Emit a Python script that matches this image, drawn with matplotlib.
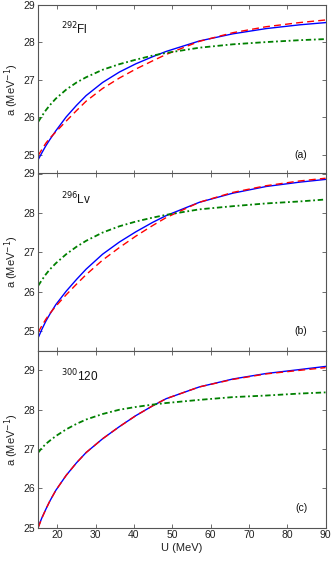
import matplotlib
matplotlib.use("Agg")
import matplotlib.pyplot as plt

plt.rcParams['font.family'] = ['Liberation Sans', 'DejaVu Sans']

U = [15, 16, 17, 18, 19.6, 22.3, 25, 27.5, 31.8, 36.2, 40.5, 44.9, 48.4, 57.1, 65.8, 74.5, 83.2, 90]

# Panel (a) 292Fl
fl_blue  = [24.87, 25.06, 25.24, 25.40, 25.64, 26.01, 26.32, 26.58, 26.93, 27.21, 27.43, 27.62, 27.76, 28.04, 28.23, 28.37, 28.47, 28.53]
fl_red   = [24.98, 25.15, 25.31, 25.44, 25.61, 25.90, 26.18, 26.43, 26.77, 27.05, 27.29, 27.51, 27.68, 28.03, 28.26, 28.42, 28.53, 28.60]
fl_green = [25.88, 26.04, 26.19, 26.32, 26.50, 26.74, 26.93, 27.07, 27.27, 27.42, 27.54, 27.65, 27.72, 27.86, 27.95, 28.01, 28.06, 28.09]

# Panel (b) 296Lv
lv_blue  = [24.83, 25.05, 25.25, 25.42, 25.67, 26.01, 26.31, 26.57, 26.95, 27.26, 27.52, 27.76, 27.93, 28.27, 28.50, 28.67, 28.78, 28.85]
lv_red   = [24.97, 25.14, 25.30, 25.44, 25.63, 25.92, 26.19, 26.43, 26.80, 27.12, 27.41, 27.68, 27.88, 28.27, 28.52, 28.69, 28.81, 28.88]
lv_green = [26.15, 26.30, 26.44, 26.56, 26.72, 26.95, 27.14, 27.29, 27.50, 27.66, 27.78, 27.88, 27.95, 28.09, 28.17, 28.24, 28.29, 28.34]

# Panel (c) 300120
e_blue  = [25.02, 25.26, 25.47, 25.67, 25.95, 26.33, 26.65, 26.91, 27.26, 27.57, 27.85, 28.10, 28.28, 28.58, 28.78, 28.92, 29.02, 29.10]
e_red   = [25.00, 25.25, 25.47, 25.67, 25.95, 26.33, 26.65, 26.91, 27.26, 27.57, 27.85, 28.10, 28.28, 28.58, 28.77, 28.91, 29.00, 29.07]
e_green = [26.91, 27.03, 27.13, 27.21, 27.33, 27.50, 27.64, 27.75, 27.89, 28.00, 28.07, 28.13, 28.17, 28.25, 28.32, 28.36, 28.41, 28.44]

nuclei = [r'$^{292}$Fl', r'$^{296}$Lv', r'$^{300}$120']
panel_tags = ['(a)', '(b)', '(c)']
ylims = [(24.5, 29), (24.5, 29), (25, 29.5)]
yticks = [25, 26, 27, 28, 29]
xticks = [20, 30, 40, 50, 60, 70, 80, 90]

W, H = 332, 566
fig = plt.figure(figsize=(W / 100, H / 100), dpi=100)

left = 38.2 / W
width = (325.5 - 38.2) / W
bounds = [(5.0, 173.5), (173.5, 350.7), (350.7, 527.7)]

data = [(fl_blue, fl_red, fl_green), (lv_blue, lv_red, lv_green), (e_blue, e_red, e_green)]
axcol = '#555555'

for i, ((top, bot), (b, r, g)) in enumerate(zip(bounds, data)):
    ax = fig.add_axes([left, 1 - bot / H, width, (bot - top) / H])
    ax.plot(U, b, color='#0000ff', lw=1.0, ls='-')
    ax.plot(U, r, color='#ff0000', lw=1.0, ls=(0, (5, 3)))
    ax.plot(U, g, color='#008000', lw=1.3, ls=(0, (3, 1.5, 1, 1.5)))
    ax.set_xlim(15, 90)
    ax.set_ylim(*ylims[i])
    ax.set_yticks(yticks)
    ax.set_xticks(xticks)
    ax.tick_params(direction='in', top=True, right=True, length=3, width=0.6,
                   labelsize=7.5, colors=axcol, labelcolor='#222222', pad=2)
    for s in ax.spines.values():
        s.set_color(axcol)
        s.set_linewidth(0.8)
    ax.set_ylabel(r'a (MeV$^{-1}$)', fontsize=8, color='#222222', labelpad=2)
    if i < 2:
        ax.set_xticklabels([])
    else:
        ax.set_xlabel('U (MeV)', fontsize=8, color='#222222', labelpad=2)
    ax.text(0.08, 0.855, nuclei[i], transform=ax.transAxes,
            fontsize=8.5, va='center', ha='left', color='#111111')
    ax.text(0.937, 0.11, panel_tags[i], transform=ax.transAxes,
            fontsize=7.5, va='center', ha='right', color='#111111')

fig.savefig('out.png', dpi=100)
